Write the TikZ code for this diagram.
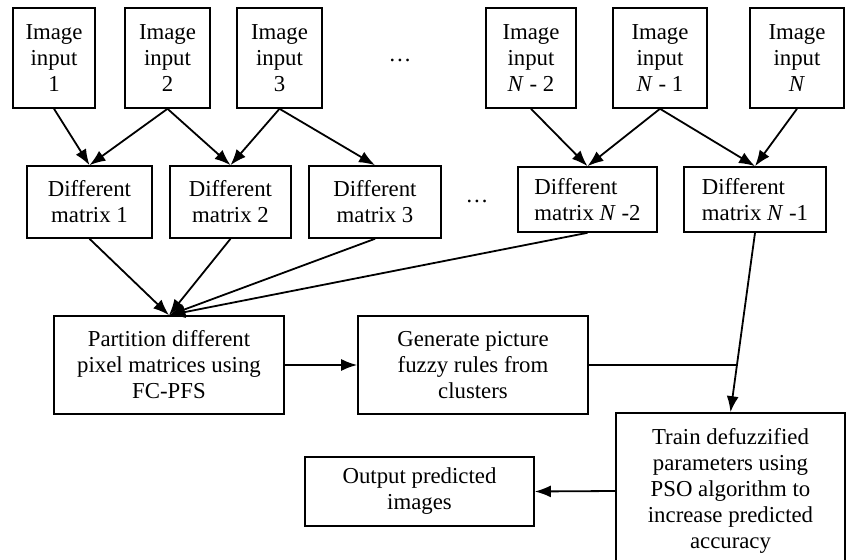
\documentclass[tikz,border=0pt]{standalone}
\usepackage{fontspec}
\setmainfont{Liberation Serif}
\usetikzlibrary{arrows.meta}
\tikzset{box/.style={draw,line width=0.8pt,align=center,inner sep=0pt,
                     font=\fontsize{11.4}{13}\selectfont},
         inbox/.style={box,minimum height=50pt},
         mbox/.style={box,minimum height=36pt},
         flow/.style={-{Latex[length=8pt,width=6pt]},line width=0.9pt}}

\begin{document}
\begin{tikzpicture}[x=0.5pt,y=-0.5pt]
        \useasboundingbox (0,0) rectangle (846,560);
        \node[inbox, minimum width=41pt](in1)at(54,58){Image\\input\\1};
        \node[inbox, minimum width=42.5pt](in2)at(167.5,58){Image\\input\\2};
        \node[inbox, minimum width=42.5pt](in3)at(279.5,58){Image\\input\\3};
        \node[font=\fontsize{11.4}{13}\selectfont](dots1)at(400,60){\dots};
        \node[inbox, minimum width=45pt](inN2)at(531,58){Image\\input\\\textit{N} - 2};
        \node[inbox, minimum width=47pt](inN1)at(660,58){Image\\input\\\textit{N} - 1};
        \node[inbox, minimum width=47pt](inN)at(797,58){Image\\input\\\textit{N}};

        \node[mbox, minimum width=62.5pt](dm1)at(89.5,202){Different\\matrix 1};
        \node[mbox, minimum width=60.5pt](dm2)at(230.5,202){Different\\matrix 2};
        \node[mbox, minimum width=66pt](dm3)at(375,202){Different\\matrix 3};
        \node[font=\fontsize{11.4}{13}\selectfont](dots2)at(477,201){\dots};
        \node[mbox, align=left, minimum width=69.5pt, minimum height=32.5pt](dmN2)at(587.5,199.5){Different\\matrix \textit{N} -2};
        \node[mbox, align=left, minimum width=71pt, minimum height=32.5pt](dmN1)at(755,199.5){Different\\matrix \textit{N} -1};

        \draw[flow](in1.south)--(dm1.north);
        \draw[flow](in2.south)--(dm1.north);
        \draw[flow](in2.south)--(dm2.north);
        \draw[flow](in3.south)--(dm2.north);
        \draw[flow](in3.south)--(dm3.north);
        \draw[flow](inN2.south)--(dmN2.north);
        \draw[flow](inN1.south)--(dmN2.north);
        \draw[flow](inN1.south)--(dmN1.north);
        \draw[flow](inN.south)--(dmN1.north);

        \node[box, minimum width=115pt, minimum height=49pt](part)at(169,365){Partition different\\pixel matrices using\\FC-PFS};
        \node[box, minimum width=115pt, minimum height=49pt](gen)at(473,365){Generate picture\\fuzzy rules from\\clusters};
        \node[box, minimum width=114.5pt, minimum height=78pt](train)at(730.5,491){Train defuzzified\\parameters using\\PSO algorithm to\\increase predicted\\accuracy};
        \node[box, minimum width=114.5pt, minimum height=34.5pt](out)at(419.5,491.5){Output predicted\\images};

        \draw[flow](dm1.south)--(part.north);
        \draw[flow](dm2.south)--(part.north);
        \draw[flow](dm3.south)--(part.north);
        \draw[flow](dmN2.south)--(part.north);
        \draw[flow](part.east)--(gen.west);
        \draw[flow](dmN1.south)--(train.north);
        \coordinate (join) at (intersection of dmN1.south--train.north and gen.west--gen.east);
        \draw[line width=0.9pt](gen.east)--(join);
        \draw[flow](train.west)--(out.east);
    \end{tikzpicture}
\end{document}
